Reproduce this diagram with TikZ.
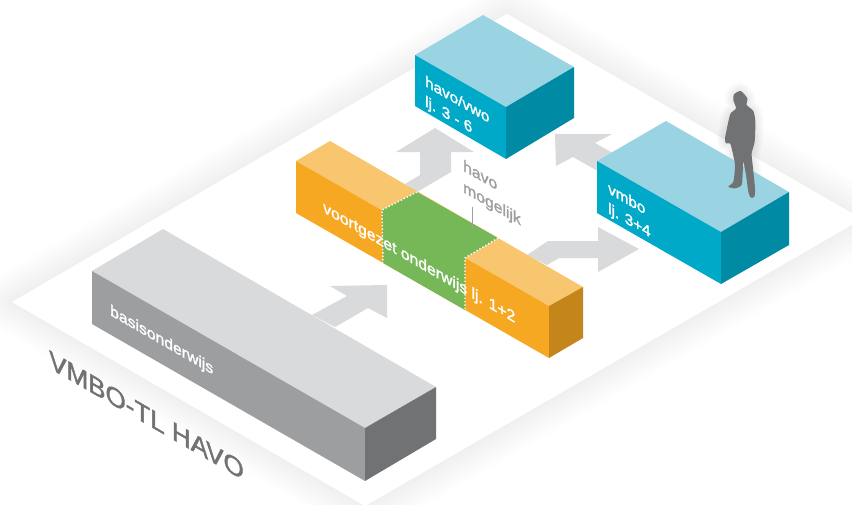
\documentclass[tikz,border=0pt]{standalone}
\usepackage{fontspec}
\setmainfont{Liberation Sans}
\newfontfamily\labelfont{Liberation Sans}[FakeBold=1.6]
\definecolor{greytop}{HTML}{D9DADC}
\definecolor{greyfront}{HTML}{9D9EA0}
\definecolor{greyside}{HTML}{717274}
\definecolor{orangetop}{HTML}{F8C66F}
\definecolor{orangefront}{HTML}{F7A823}
\definecolor{orangeside}{HTML}{C4851B}
\definecolor{bluetop}{HTML}{9AD4E2}
\definecolor{bluefront}{HTML}{00A9C8}
\definecolor{blueside}{HTML}{008AA3}
\definecolor{greenmid}{HTML}{76B757}
\newcommand{\personpath}{plot[smooth cycle,tension=0.4] coordinates {
  (92,18) (112,40) (110,60) (130,78) (136,110) (134,170) (125,205) (128,240)
  (135,310) (133,335) (122,338) (115,320) (108,270) (100,230) (98,265) (95,300)
  (75,310) (55,305) (70,290) (75,240) (65,190) (60,175) (48,175) (45,160)
  (55,110) (62,85) (78,70) (70,45) (72,28)}}
\tikzset{
  isotext/.style={inner sep=0pt,anchor=base west,yslant=-0.577,transform shape,align=left,
    font=\labelfont\fontsize{15.7}{20}\selectfont},
  boxtext/.style={isotext,text=white},
  stacktext/.style={boxtext,font=\labelfont\fontsize{15.2}{20}\selectfont},
  greytext/.style={isotext,text=greyfront,font=\labelfont\fontsize{15.7}{21.5}\selectfont},
  arrowshape/.style={fill=greytop},
  dividerline/.style={white,dotted,line width=1.4pt},
  personscale/.style={shift={(710,85)},x=0.3333pt,y=-0.3333pt},
}
\begin{document}
\begin{tikzpicture}[x=1pt,y=-1pt]
  \useasboundingbox (0,0) rectangle (852,504);
  % schaduw van het vlak
  \foreach \w in {60,56,...,4}
    \draw[line width=\w pt,line join=round,black,opacity=0.005]
      (507,14) -- (862,219) -- (365,506) -- (12,302) -- cycle;
  % vlak
  \fill[white] (507,14) -- (862,219) -- (365,506) -- (12,302) -- cycle;

  % pijlen
  \fill[arrowshape] (312,315) -- (347,296) -- (330,286) -- (387,285) -- (387,318) -- (368,308) -- (335,327) -- cycle;
  \fill[arrowshape] (420,152) -- (396,152) -- (435,128) -- (474,152) -- (451,152) -- (451,172) -- (417,192) -- (405,184) -- (420,175) -- cycle;
  \fill[arrowshape] (527,255) -- (548,241) -- (598,241) -- (598,227) -- (639,249) -- (598,272) -- (598,258) -- (559,258) -- (547,265) -- cycle;
  \fill[arrowshape] (555,134) -- (612,134) -- (595,143) -- (625,160) -- (610,178) -- (573,157) -- (556,166) -- cycle;

  % basisonderwijs
  \fill[greytop] (92,271) -- (163,229) -- (436,387) -- (365,428) -- cycle;
  \fill[greyfront] (92,271) -- (365,428) -- (365,481) -- (92,324) -- cycle;
  \fill[greyside] (365,428) -- (436,387) -- (436,439) -- (365,481) -- cycle;
  \node[boxtext] (basis) at (110,315) {basisonderwijs};

  % voortgezet onderwijs
  \fill[orangetop] (296,161) -- (330,141) -- (583,287) -- (549,306) -- cycle;
  \fill[orangefront] (296,161) -- (549,306) -- (549,358) -- (296,213) -- cycle;
  \fill[orangeside] (549,306) -- (583,287) -- (583,338) -- (549,358) -- cycle;
  \fill[greenmid] (382,210) -- (417,192) -- (498,238) -- (465,258) -- (465,310) -- (383,263) -- cycle;
  \draw[dividerline] (417,192) -- (382,210) -- (383,263);
  \draw[dividerline] (498,238) -- (465,258) -- (465,310);
  \node[boxtext] (voortgezet) at (323,212) {voortgezet onderwijs lj. 1+2};

  % havo mogelijk
  \node[greytext] (mogelijk) at (463,192) {havo\\mogelijk};
  \coordinate (leadertop) at (472,207);
  \coordinate (leaderend) at (472,228);
  \draw[greyfront,line width=0.7pt] (leadertop) -- (leaderend);

  % havo/vwo
  \fill[bluetop] (415,55) -- (483,15) -- (574,67) -- (506,107) -- cycle;
  \fill[bluefront] (415,55) -- (506,107) -- (506,159) -- (415,106) -- cycle;
  \fill[blueside] (506,107) -- (574,67) -- (574,118) -- (506,159) -- cycle;
  \node[stacktext] (havovwo) at (425,106) {havo/vwo\\lj. 3 - 6};

  % schaduw van de figuur
  \begin{scope}[personscale]
    \foreach \w in {16,12,8,4}
      \draw[line width=\w pt,line join=round,black,opacity=0.02] \personpath;
  \end{scope}

  % vmbo
  \fill[bluetop] (597,161) -- (666,121) -- (789,192) -- (721,232) -- cycle;
  \fill[bluefront] (597,161) -- (721,232) -- (721,284) -- (597,213) -- cycle;
  \fill[blueside] (721,232) -- (789,192) -- (789,245) -- (721,284) -- cycle;
  \node[stacktext] (vmbo) at (608,213) {vmbo\\lj. 3+4};

  % figuur
  \begin{scope}[personscale]
    \fill[greyside] \personpath;
  \end{scope}

  % titel
  \node[isotext,text=greyside,font=\labelfont\fontsize{26}{30}\selectfont] (titel) at (49,368) {VMBO-TL HAVO};
\end{tikzpicture}
\end{document}
